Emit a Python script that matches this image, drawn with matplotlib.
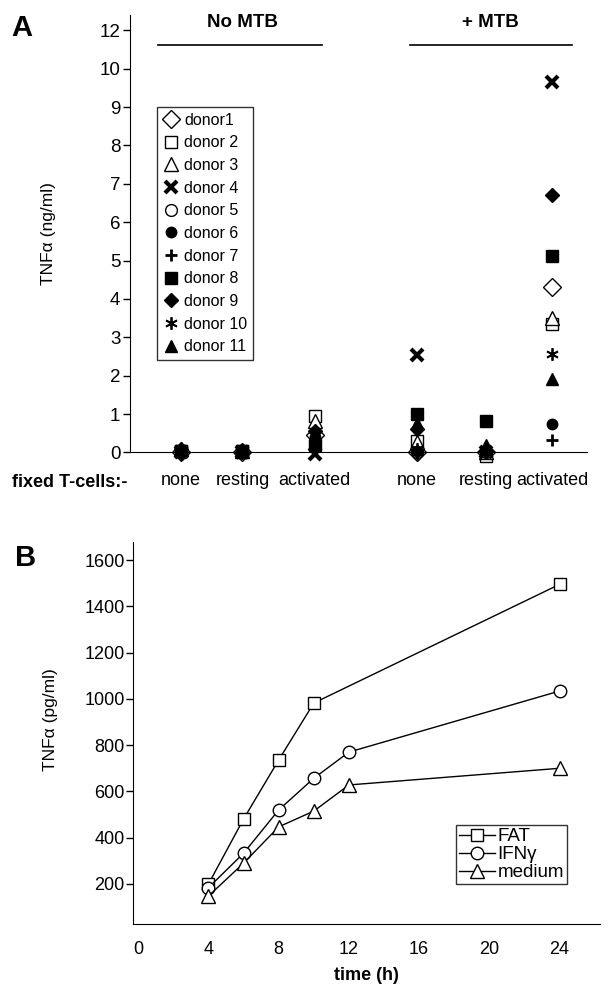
import numpy as np
import matplotlib
matplotlib.use("Agg")
import matplotlib.pyplot as plt

plt.rcParams['font.family'] = ['Liberation Sans', 'DejaVu Sans']

# panel A data: TNFa (ng/ml) per donor, columns follow `conditions`
conditions = ["none", "resting", "activated", "none", "resting", "activated"]
donor1 = [0.0, 0.0, 0.45, 0.0, 0.0, 4.3]
donor2 = [0.05, 0.05, 0.95, 0.3, -0.1, 3.35]
donor3 = [0.08, 0.05, 0.83, 0.28, 0.0, 3.5]
donor4 = [0.0, 0.0, -0.05, 2.55, 0.0, 9.65]
donor5 = [0.0, 0.0, 0.3, 0.0, 0.0, np.nan]
donor6 = [0.05, 0.0, 0.4, 0.05, 0.05, 0.75]
donor7 = [0.0, 0.0, 0.1, -0.05, 0.0, 0.32]
donor8 = [0.05, 0.05, 0.2, 1.0, 0.83, 5.12]
donor9 = [0.1, 0.0, 0.55, 0.62, 0.05, 6.7]
donor10 = [-0.05, 0.0, 0.15, 0.1, 0.0, 2.57]
donor11 = [0.05, 0.0, 0.3, 0.78, 0.2, 1.92]
donor_names = ["donor1", "donor 2", "donor 3", "donor 4", "donor 5", "donor 6",
               "donor 7", "donor 8", "donor 9", "donor 10", "donor 11"]

# panel B data: TNFa (pg/ml) over time
fat_t = [4, 6, 8, 10, 24]
fat_v = [200, 481, 736, 982, 1495]
ifn_t = [4, 6, 8, 10, 12, 24]
ifn_v = [184, 333, 520, 657, 770, 1034]
med_t = [4, 6, 8, 10, 12, 24]
med_v = [148, 290, 447, 515, 628, 700]

W, H = 608, 986
fig = plt.figure(figsize=(W / 100, H / 100), dpi=100)


def fx(px):
    return px / W


def fy(py):
    return 1 - py / H


# ---------------- panel A ----------------
axA = fig.add_axes([fx(130), fy(464), fx(457), 449 / H])
xpos = [1, 1.95, 3.06, 4.63, 5.69, 6.71]

styles = [
    dict(marker='D', mfc='white', mec='black', ms=9.5, mew=1),
    dict(marker='s', mfc='white', mec='black', ms=8.5, mew=1),
    dict(marker='^', mfc='white', mec='black', ms=9.5, mew=1),
    dict(marker='x', mfc='black', mec='black', ms=8.5, mew=3),
    dict(marker='o', mfc='white', mec='black', ms=8.5, mew=1),
    dict(marker='o', mfc='black', mec='black', ms=7.5, mew=1),
    dict(marker='+', mfc='black', mec='black', ms=9, mew=2),
    dict(marker='s', mfc='black', mec='black', ms=8, mew=1),
    dict(marker='D', mfc='black', mec='black', ms=7.5, mew=1),
    dict(marker=(6, 2, 0), mfc='black', mec='black', ms=9, mew=1.3),
    dict(marker='^', mfc='black', mec='black', ms=9, mew=1),
]
donors = [donor1, donor2, donor3, donor4, donor5, donor6,
          donor7, donor8, donor9, donor10, donor11]
handles = []
for vals, st, name in zip(donors, styles, donor_names):
    h, = axA.plot(xpos, vals, ls='none', label=name, clip_on=False, **st)
    handles.append(h)

axA.set_xlim(0.22, 7.25)
axA.set_ylim(-0.3, 11.4)
axA.spines['top'].set_visible(False)
axA.spines['right'].set_visible(False)
axA.spines['bottom'].set_position(('data', 0))
axA.spines['left'].set_bounds(0, 11.4)
axA.set_yticks(list(range(11)) + [11])
axA.set_yticklabels([str(i) for i in range(11)] + ["12"], fontsize=13.5)
axA.tick_params(axis='y', direction='out', length=5, width=1, pad=2)
axA.set_xticks(xpos)
axA.set_xticklabels(conditions, fontsize=13)
axA.tick_params(axis='x', length=0, pad=14)

axA.plot([0.65, 3.18], [10.62, 10.62], color='black', lw=1.2, clip_on=False)
axA.plot([4.52, 7.02], [10.62, 10.62], color='black', lw=1.2, clip_on=False)
axA.text(1.95, 11.2, "No MTB", ha='center', va='center', fontsize=13.5,
         fontweight='bold', clip_on=False)
axA.text(5.77, 11.2, "+ MTB", ha='center', va='center', fontsize=13.5,
         fontweight='bold', clip_on=False)

legA = axA.legend(handles=handles, loc='upper left',
                  bbox_to_anchor=(fx(157), fy(107)), bbox_transform=fig.transFigure,
                  fontsize=11.5, frameon=True, fancybox=False, handlelength=1.0,
                  handletextpad=0.35, labelspacing=0.48, borderpad=0.35,
                  borderaxespad=0)
legA.get_frame().set_edgecolor('black')
legA.get_frame().set_linewidth(1)

fig.text(fx(48), fy(234), "TNFα (ng/ml)", rotation=90, ha='center', va='center',
         fontsize=12.5)
fig.text(fx(12), fy(482), "fixed T-cells:-", ha='left', va='center', fontsize=13,
         fontweight='bold')
fig.text(fx(22), fy(28), "A", ha='center', va='center', fontsize=21, fontweight='bold')

# ---------------- panel B ----------------
axB = fig.add_axes([fx(133), fy(924), fx(467), 382 / H])
lf, = axB.plot(fat_t, fat_v, color='black', lw=1, marker='s', mfc='white',
               mec='black', ms=9, label="FAT")
li, = axB.plot(ifn_t, ifn_v, color='black', lw=1, marker='o', mfc='white',
               mec='black', ms=9, label="IFNγ")
lm, = axB.plot(med_t, med_v, color='black', lw=1, marker='^', mfc='white',
               mec='black', ms=9.5, label="medium")

axB.set_xlim(-0.3, 26.3)
axB.set_ylim(27, 1678)
axB.spines['top'].set_visible(False)
axB.spines['right'].set_visible(False)
axB.set_xticks([0, 4, 8, 12, 16, 20, 24])
axB.tick_params(axis='x', length=0, pad=12, labelsize=13)
axB.set_yticks(range(200, 1601, 200))
axB.tick_params(axis='y', direction='out', length=5, width=1, pad=1, labelsize=13)
axB.set_xlabel("time (h)", fontsize=13, fontweight='bold', labelpad=7)

legB = axB.legend(handles=[lf, li, lm], loc='lower right',
                  bbox_to_anchor=(fx(567), fy(884)), bbox_transform=fig.transFigure,
                  fontsize=13.5, frameon=True, fancybox=False, handlelength=1.9,
                  handletextpad=0.15, labelspacing=0.05, borderpad=0.15,
                  borderaxespad=0)
legB.get_frame().set_edgecolor('black')
legB.get_frame().set_linewidth(1)

fig.text(fx(51), fy(720), "TNFα (pg/ml)", rotation=90, ha='center', va='center',
         fontsize=12.5)
fig.text(fx(26), fy(558), "B", ha='center', va='center', fontsize=21, fontweight='bold')

fig.savefig("out.png", dpi=100)
